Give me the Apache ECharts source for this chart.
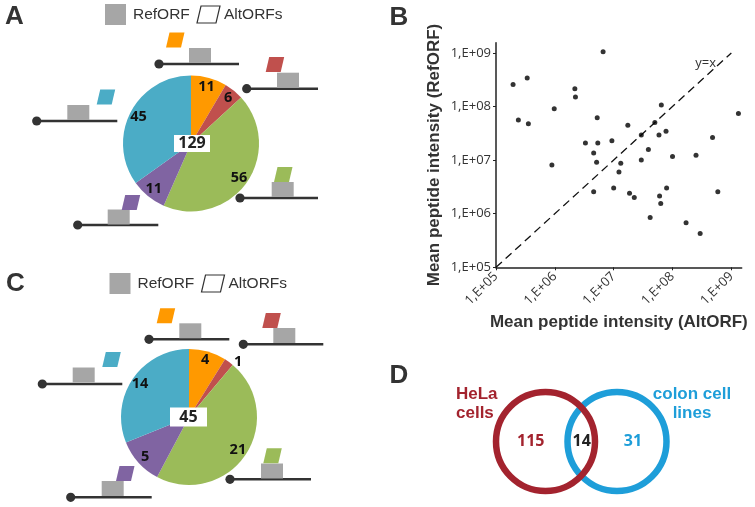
<!DOCTYPE html>
<html><head><meta charset="utf-8">
<script src="https://cdn.jsdelivr.net/npm/echarts@6/dist/echarts.min.js"></script>
<style>html,body{margin:0;padding:0;background:#fff}#c{width:755px;height:507px}</style>
</head><body><div id="c"></div>
<script>
// ---- data ----
const orfCategories = ['5\u2032UTR', '5\u2032UTR\u2013CDS', 'CDS', 'CDS\u20133\u2032UTR', '3\u2032UTR'];
const sliceColors = ['#FF9900', '#C0504D', '#9BBB59', '#8064A2', '#4BACC6'];
const panelAValues = [11, 6, 56, 11, 45];
const panelCValues = [4, 1, 21, 5, 14];

const altOrfIntensity = [1.95e5, 3.39e5, 2.40e5, 3.55e5, 9.77e5, 8.91e5, 2.19e6, 2.24e6, 6.61e6, 5.25e6,
  3.31e6, 5.37e6, 4.57e6, 5.13e6, 4.57e6, 9.33e6, 1.74e7, 1.32e7, 1.23e7, 1.0e7,
  1.86e7, 2.24e7, 2.95e7, 2.95e7, 3.89e7, 5.01e7, 6.46e7, 5.89e7, 7.76e7, 1.0e8,
  7.94e7, 6.03e7, 6.31e7, 4.17e7, 1.70e8, 2.95e8, 2.51e8, 4.79e8, 5.89e8, 1.32e9];
const refOrfIntensity = [2.57e8, 3.39e8, 5.62e7, 4.79e7, 9.12e7, 8.13e6, 2.14e8, 1.51e8, 1.05e9, 6.17e7,
  2.09e7, 2.09e7, 1.35e7, 9.12e6, 2.57e6, 2.29e7, 4.47e7, 8.71e6, 6.03e6, 3.02e6,
  2.40e6, 2.0e6, 2.95e7, 1.0e7, 1.58e7, 5.01e7, 1.07e8, 2.95e7, 3.47e7, 1.17e7,
  3.02e6, 2.14e6, 1.55e6, 8.51e5, 6.76e5, 4.27e5, 1.23e7, 2.63e7, 2.57e6, 7.41e7];
const identityLine = [[1e5, 1e5], [1e9, 1e9]];

const vennSets = ['HeLa\ncells', 'colon cell\nlines'];
const vennCounts = [115, 14, 31]; // HeLa only, both, colon only

// ---- helpers ----
const DARK = '#333';
const sum = a => a.reduce((s, v) => s + v, 0);
const expLabel = v => {
  const e = Math.log10(v);
  if (Math.abs(e - Math.round(e)) > 1e-6) return '';
  return '1,E+' + String(Math.round(e)).padStart(2, '0');
};

function orfIcon(dotX, lineY, lineEnd, rectX, rectTop, paraX, paraTop, color) {
  return [
    { type: 'line', shape: { x1: dotX, y1: lineY, x2: lineEnd, y2: lineY }, style: { stroke: DARK, lineWidth: 2.5 } },
    { type: 'circle', shape: { cx: dotX, cy: lineY, r: 4.6 }, style: { fill: DARK } },
    { type: 'rect', shape: { x: rectX, y: rectTop, width: 22, height: 15 }, style: { fill: '#A6A6A6' } },
    { type: 'polygon', shape: { points: [[paraX + 3.5, paraTop], [paraX + 18.5, paraTop], [paraX + 15, paraTop + 15], [paraX, paraTop + 15]] }, style: { fill: color } }
  ];
}
function legend(x, y) {
  return [
    { type: 'rect', shape: { x: x, y: y, width: 21, height: 21 }, style: { fill: '#A6A6A6' } },
    { type: 'text', x: x + 28, y: y + 11, style: { text: 'RefORF', fill: DARK, font: '15.5px "Liberation Sans", Arial', verticalAlign: 'middle' } },
    { type: 'polygon', shape: { points: [[x + 96, y + 2], [x + 115, y + 2], [x + 111, y + 19], [x + 92, y + 19]] }, style: { fill: 'none', stroke: DARK, lineWidth: 1.2 } },
    { type: 'text', x: x + 119, y: y + 11, style: { text: 'AltORFs', fill: DARK, font: '15.5px "Liberation Sans", Arial', verticalAlign: 'middle' } }
  ];
}
function centerBox(cx, cy, w, h, total) {
  return [
    { type: 'rect', shape: { x: cx - w / 2, y: cy - h / 2, width: w, height: h }, style: { fill: '#fff' }, z: 10 },
    { type: 'text', x: cx, y: cy, z: 11, style: { text: String(total), fill: '#222', font: 'bold 16px "Open Sans"', align: 'center', verticalAlign: 'middle' } }
  ];
}
function letter(t, x, y) {
  return { type: 'text', x: x, y: y, style: { text: t, fill: DARK, font: 'bold 26px "Liberation Sans", Arial', align: 'center', verticalAlign: 'middle' } };
}
function pieSeries(center, values, outsideIdx) {
  const base = values.map((v, i) => ({ name: orfCategories[i], value: v, itemStyle: { color: sliceColors[i] } }));
  const lbl = values.map((v, i) => {
    const d = { name: orfCategories[i], value: v, itemStyle: { color: 'rgba(0,0,0,0)' } };
    if (i === outsideIdx) d.label = { position: 'outside' };
    return d;
  });
  return [
    { type: 'pie', center: center, radius: 68, startAngle: 90, clockwise: true, silent: true, animation: false,
      label: { show: false }, labelLine: { show: false }, itemStyle: { borderWidth: 0 }, emphasis: { disabled: true }, data: base },
    { type: 'pie', center: center, radius: [44, 68], startAngle: 90, clockwise: true, silent: true, animation: false,
      avoidLabelOverlap: false, itemStyle: { borderWidth: 0 }, emphasis: { disabled: true },
      label: { show: true, position: 'inside', formatter: '{c}', color: '#111', fontFamily: 'Open Sans', fontWeight: 'bold', fontSize: 14.5 },
      labelLine: { show: false, length: 0, length2: 0 }, data: lbl, z: 3 }
  ];
}

const graphics = [].concat(
  letter('A', 14.5, 16.5), letter('B', 399, 18), letter('C', 15.5, 284), letter('D', 399, 375.5),
  legend(105, 4), legend(109.5, 273),
  orfIcon(159, 64, 239, 189, 48, 166, 32.5, sliceColors[0]),
  orfIcon(246.7, 88.7, 318, 277, 72.7, 265.7, 57, sliceColors[1]),
  orfIcon(240, 198, 318, 271.7, 182, 274, 167, sliceColors[2]),
  orfIcon(77.7, 225, 158.3, 107.7, 209.5, 121.7, 195, sliceColors[3]),
  orfIcon(36.7, 121, 117.3, 67.3, 105, 96.7, 89.5, sliceColors[4]),
  orfIcon(149, 339.3, 229.3, 179.3, 323.3, 156.7, 308.3, sliceColors[0]),
  orfIcon(243.3, 344.3, 323.3, 273.3, 328, 262.3, 313, sliceColors[1]),
  orfIcon(230, 479.3, 311, 261, 463.5, 263.3, 448.3, sliceColors[2]),
  orfIcon(70.7, 497.3, 151.7, 101.7, 481, 116, 466, sliceColors[3]),
  orfIcon(42.3, 384, 122.3, 72.7, 367.5, 102.3, 352, sliceColors[4]),
  centerBox(192, 143.5, 36, 17, sum(panelAValues)),
  centerBox(188.5, 417, 37, 19, sum(panelCValues)),
  [
    { type: 'circle', shape: { cx: 617, cy: 441.5, r: 49.5 }, style: { fill: 'none', stroke: '#1E9ED9', lineWidth: 6.5 } },
    { type: 'circle', shape: { cx: 545.5, cy: 441.5, r: 49.5 }, style: { fill: 'none', stroke: '#A3232E', lineWidth: 6.5 } },
    { type: 'text', x: 456, y: 404, style: { text: vennSets[0], fill: '#A3232E', font: 'bold 17px "Liberation Sans", Arial', align: 'left', verticalAlign: 'middle', lineHeight: 19.5 } },
    { type: 'text', x: 692, y: 404, style: { text: vennSets[1], fill: '#1E9ED9', font: 'bold 17px "Liberation Sans", Arial', align: 'center', verticalAlign: 'middle', lineHeight: 19.5 } },
    { type: 'text', x: 530.7, y: 441, style: { text: String(vennCounts[0]), fill: '#A3232E', font: 'bold 16px "Open Sans"', align: 'center', verticalAlign: 'middle' } },
    { type: 'text', x: 581.7, y: 441, style: { text: String(vennCounts[1]), fill: '#222', font: 'bold 16px "Open Sans"', align: 'center', verticalAlign: 'middle' } },
    { type: 'text', x: 633, y: 441, style: { text: String(vennCounts[2]), fill: '#1E9ED9', font: 'bold 16px "Open Sans"', align: 'center', verticalAlign: 'middle' } }
  ]
);

const axisCommon = {
  type: 'log', logBase: 10, min: 1e5,
  axisLine: { show: true, lineStyle: { color: '#222', width: 1.5 } },
  axisTick: { show: true, length: 3, lineStyle: { color: '#222', width: 1 } },
  splitLine: { show: false },
  nameLocation: 'middle',
  nameTextStyle: { fontFamily: '"Liberation Sans", Arial', fontWeight: 'bold', fontSize: 17, color: '#333' }
};

const chart = echarts.init(document.getElementById('c'), null, { renderer: 'canvas' });
chart.setOption({
  animation: false,
  backgroundColor: '#fff',
  grid: { left: 496, right: 13.3, top: 42.7, bottom: 239.7, containLabel: false, outerBoundsMode: 'none' },
  xAxis: Object.assign({}, axisCommon, {
    max: 1.5e9, name: 'Mean peptide intensity (AltORF)', nameGap: 47,
    axisLabel: { rotate: 45, margin: 7, fontFamily: 'Open Sans', fontSize: 13, color: '#333', formatter: expLabel, showMaxLabel: false }
  }),
  yAxis: Object.assign({}, axisCommon, {
    max: 1.55e9, name: 'Mean peptide intensity (RefORF)', nameGap: 53,
    axisLabel: { margin: 5, fontFamily: 'Open Sans', fontSize: 13, color: '#333', formatter: expLabel, showMaxLabel: false }
  }),
  graphic: graphics,
  series: [
    { type: 'line', data: identityLine, showSymbol: false, silent: true,
      lineStyle: { color: '#111', width: 1.3, type: [8, 5] },
      endLabel: { show: true, formatter: 'y=x', offset: [-44, 10], color: '#333', fontFamily: 'Open Sans', fontSize: 13 } },
    { type: 'scatter', data: altOrfIntensity.map((x, i) => [x, refOrfIntensity[i]]), symbolSize: 5, itemStyle: { color: '#000' }, z: 5 }
  ].concat(pieSeries([191, 143.5], panelAValues, -1), pieSeries([189, 417], panelCValues, 1))
});
</script>
</body></html>
